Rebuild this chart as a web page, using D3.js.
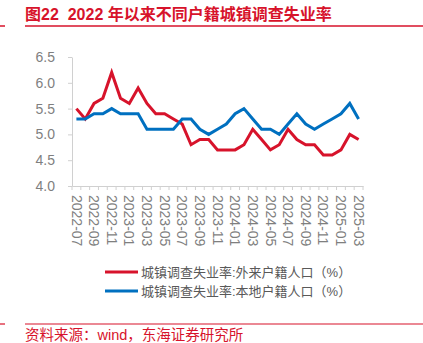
<!DOCTYPE html>
<html><head><meta charset="utf-8">
<script src="https://cdn.jsdelivr.net/npm/d3@7"></script>
<style>
html,body{margin:0;padding:0;background:#fff;}
svg{display:block;}
text{font-family:"Liberation Sans",Arial,"Noto Sans CJK SC",sans-serif;white-space:pre;}
</style></head>
<body>
<script>
const months = ["2022-07","2022-08","2022-09","2022-10","2022-11","2022-12",
"2023-01","2023-02","2023-03","2023-04","2023-05","2023-06","2023-07","2023-08","2023-09","2023-10","2023-11","2023-12",
"2024-01","2024-02","2024-03","2024-04","2024-05","2024-06","2024-07","2024-08","2024-09","2024-10","2024-11","2024-12",
"2025-01","2025-02","2025-03"];
const migrant = [5.5,5.3,5.6,5.7,6.2,5.7,5.6,5.9,5.6,5.4,5.4,5.3,5.2,4.8,4.9,4.9,4.7,4.7,4.7,4.8,5.1,4.9,4.7,4.8,5.1,4.9,4.8,4.8,4.6,4.6,4.7,5.0,4.9];
const local = [5.3,5.3,5.4,5.4,5.5,5.4,5.4,5.4,5.1,5.1,5.1,5.1,5.3,5.3,5.1,5.0,5.1,5.2,5.4,5.5,5.3,5.1,5.1,5.0,5.2,5.4,5.2,5.1,5.2,5.3,5.4,5.6,5.3];
const yTicks = [4.0,4.5,5.0,5.5,6.0,6.5];
const seriesNames = ["城镇调查失业率:外来户籍人口（%）","城镇调查失业率:本地户籍人口（%）"];
const titleText = "图22  2022 年以来不同户籍城镇调查失业率";
const sourceText = "资料来源：wind，东海证券研究所";

(function () {
const RED = "#d7132b", BLUE = "#0070c0", GRAY = "#7f7f7f", AXIS = "#d0d0d0";
const W = 423, H = 343;
const svg = d3.select("body").append("svg").attr("width", W).attr("height", H);

// title
svg.append("text").attr("x", 25).attr("y", 20).attr("fill", RED)
  .attr("font-size", 16).attr("font-weight", "bold").text(titleText);
svg.append("line").attr("x1", 25).attr("x2", W).attr("y1", 26).attr("y2", 26).attr("stroke", RED).attr("stroke-width", 1.5);
svg.append("line").attr("x1", 0).attr("x2", 5).attr("y1", 26).attr("y2", 26).attr("stroke", RED).attr("stroke-width", 1.5);

const mLeft = 72, mRight = 363, mTop = 57, mBottom = 186;
const x = d3.scaleBand().domain(months).range([mLeft, mRight]).padding(0);
const y = d3.scaleLinear().domain([4.0, 6.5]).range([mBottom, mTop]);
const cx = d => x(d) + x.bandwidth() / 2;

// y axis
const ya = svg.append("g").attr("transform", `translate(${mLeft},0)`)
  .call(d3.axisLeft(y).tickValues(yTicks).tickFormat(d3.format(".1f")).tickSize(4).tickSizeOuter(0).tickPadding(13));
ya.select(".domain").attr("stroke", AXIS);
ya.selectAll(".tick line").attr("stroke", AXIS);
ya.selectAll(".tick text").attr("fill", GRAY).attr("font-size", 14).attr("font-family", "\"Liberation Sans\",Arial,sans-serif");

// x axis
const xa = svg.append("g").attr("transform", `translate(0,${mBottom})`)
  .call(d3.axisBottom(x).tickValues(months.filter((d, i) => i % 2 === 0)).tickSize(0).tickSizeOuter(0).tickPadding(0));
xa.select(".domain").attr("stroke", AXIS);
xa.selectAll(".tick text").attr("fill", GRAY).attr("font-size", 14)
  .attr("font-family", "\"Liberation Sans\",Arial,sans-serif")
  .attr("transform", "rotate(90)").attr("x", 9).attr("y", 0).attr("dy", "0.35em").attr("text-anchor", "start");
// boundary ticks
const bounds = months.map(d => x(d)).concat([x(months[months.length - 1]) + x.bandwidth()]);
svg.append("g").selectAll("line").data(bounds).join("line")
  .attr("x1", d => d).attr("x2", d => d).attr("y1", mBottom).attr("y2", mBottom + 4).attr("stroke", AXIS);

// lines
const line = d3.line().x((d, i) => cx(months[i])).y(d => y(d));
[[migrant, RED], [local, BLUE]].forEach(([data, c]) => {
  svg.append("path").datum(data).attr("d", line).attr("fill", "none")
    .attr("stroke", c).attr("stroke-width", 3).attr("stroke-linejoin", "miter");
});

// legend
[[RED, 272], [BLUE, 291]].forEach(([c, ly], i) => {
  svg.append("line").attr("x1", 105).attr("x2", 138).attr("y1", ly).attr("y2", ly).attr("stroke", c).attr("stroke-width", 3);
  svg.append("text").attr("x", 141).attr("y", ly).attr("dy", "0.35em").attr("fill", "#595959")
    .attr("font-size", 13).text(seriesNames[i]);
});

// source
svg.append("line").attr("x1", 25).attr("x2", W).attr("y1", 324).attr("y2", 324).attr("stroke", RED).attr("stroke-width", 1.2);
svg.append("line").attr("x1", 0).attr("x2", 5).attr("y1", 324).attr("y2", 324).attr("stroke", RED).attr("stroke-width", 1.2);
svg.append("text").attr("x", 25).attr("y", 340).attr("fill", RED).attr("font-size", 14.5).text(sourceText);
})();
</script>
</body></html>
